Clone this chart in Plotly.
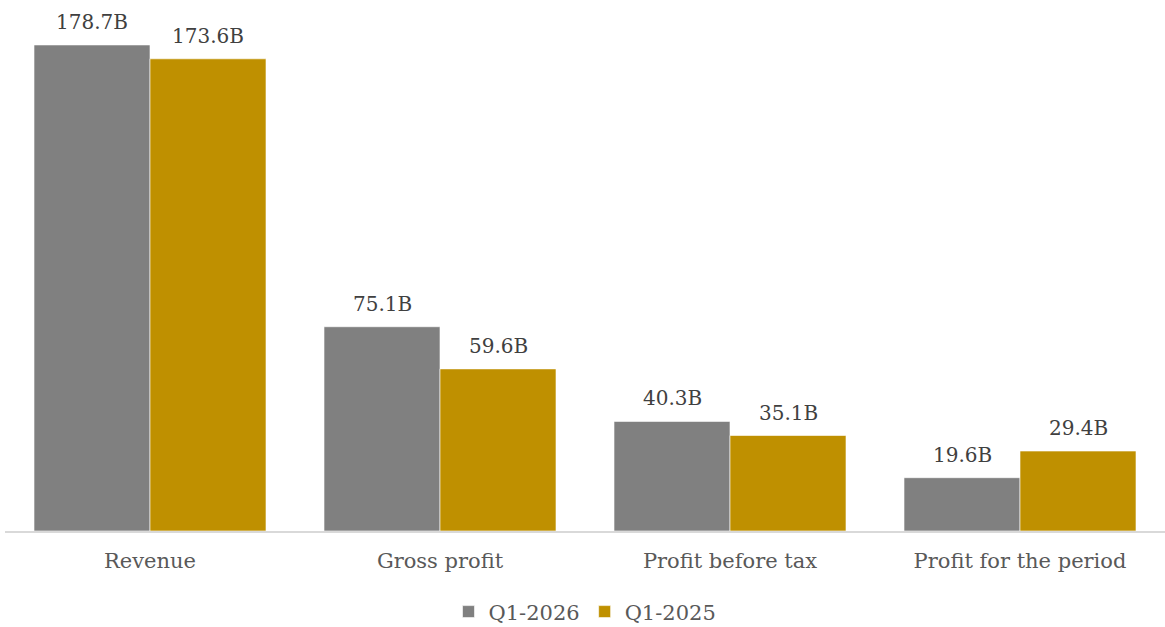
import plotly.graph_objects as go

categories = ["Revenue", "Gross profit", "Profit before tax", "Profit for the period"]
q1_2026 = [178.7, 75.1, 40.3, 19.6]
q1_2025 = [173.6, 59.6, 35.1, 29.4]
series_names = ["Q1-2026", "Q1-2025"]
colors = ["#808080", "#BF9000"]

FONT = "DejaVu Serif"

fig = go.Figure()
offsets = [-0.2, 0.2]
for name, vals, col, off in zip(series_names, [q1_2026, q1_2025], colors, offsets):
    fig.add_trace(go.Bar(
        x=categories, y=vals, name=name,
        marker=dict(color=col, line=dict(color="rgba(255,255,255,0.8)", width=0.75)),
    ))
    for i, v in enumerate(vals):
        fig.add_annotation(
            x=i + off, y=v, xref="x", yref="y", text=f"{v:.1f}B",
            showarrow=False, yanchor="bottom", yshift=9,
            font=dict(family=FONT, size=20, color="#404040"),
        )

fig.update_layout(
    width=1165, height=627,
    margin=dict(l=5, r=0, t=20, b=96),
    paper_bgcolor="white", plot_bgcolor="white",
    barmode="group", bargap=0.2, bargroupgap=0,
    font=dict(family=FONT, size=21, color="#595959"),
    showlegend=True,
    legend=dict(orientation="h", x=0.5, xanchor="center", yref="container", y=0.024, yanchor="middle",
                font=dict(family=FONT, size=21, color="#595959"), itemwidth=30, traceorder="normal"),
    xaxis=dict(showline=True, linecolor="#D9D9D9", linewidth=1.5, ticks="", showgrid=False,
               tickfont=dict(family=FONT, size=21, color="#595959"), ticklabelstandoff=10),
    yaxis=dict(visible=False, range=[0, 511 / 2.72], showgrid=False, zeroline=False),
)

fig.write_html("out.html")
